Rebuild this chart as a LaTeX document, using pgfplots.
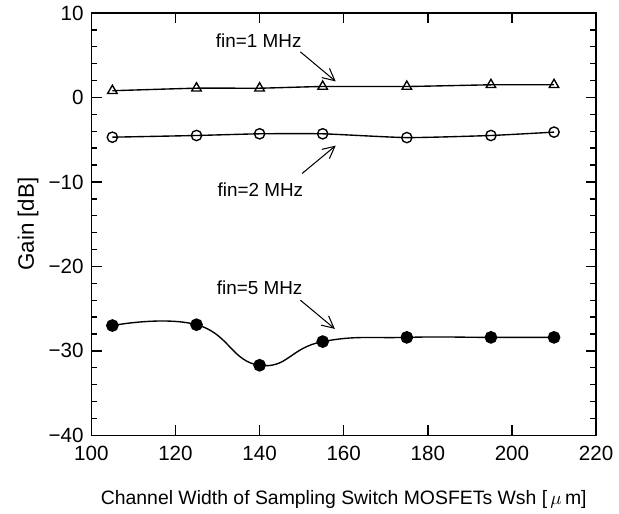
\documentclass[border=0pt]{standalone}
\usepackage{fontspec}
\setmainfont{Liberation Sans}
\usepackage{pgfplots}
\pgfplotsset{compat=1.18}
\usetikzlibrary{arrows.meta}

\begin{document}
\begin{tikzpicture}[font=\fontsize{11}{13}\selectfont]
  \begin{axis}[
    scale only axis, width=294pt, height=246pt,
    xmin=100, xmax=220, ymin=-40, ymax=10,
    xtick={100,120,...,220}, ytick={-40,-30,...,10},
    yticklabels={−40,−30,−20,−10,0,10},
    minor y tick num=4,
    tick align=inside, major tick length=6pt, minor tick length=3.5pt,
    axis line style={line width=0.9pt},
    every tick/.style={black, line width=0.8pt},
    /pgf/number format/assume math mode=true,
    tick label style={font=\fontsize{12}{14}\selectfont},
    xticklabel style={yshift=-3pt},
    yticklabel style={xshift=-1pt},
    xlabel={Channel Width of Sampling Switch MOSFETs Wsh [\,$\mu$\,m]},
    ylabel={Gain [dB]},
    xlabel style={font=\fontsize{11.3}{13}\selectfont, yshift=-10pt},
    ylabel style={font=\fontsize{13}{15}\selectfont, yshift=-1pt},
    clip=false,
  ]
    % fin = 1 MHz
    \addplot[black, line width=0.8pt, smooth, tension=0.3,
             mark=triangle, mark size=3.2pt, mark options={solid, fill=white}]
      coordinates {(105,0.8) (125,1.1) (140,1.1) (155,1.3) (175,1.3) (195,1.5) (210,1.5)};
    % fin = 2 MHz
    \addplot[black, line width=0.8pt, smooth, tension=0.3,
             mark=o, mark size=3pt, mark options={solid, fill=white}]
      coordinates {(105,-4.7) (125,-4.5) (140,-4.3) (155,-4.3) (175,-4.75) (195,-4.5) (210,-4.1)};
    % fin = 5 MHz
    \addplot[black, line width=0.8pt, smooth, tension=0.8,
             mark=*, mark size=3.3pt]
      coordinates {(105,-27.0) (125,-26.9) (140,-31.7) (155,-28.9) (175,-28.4) (195,-28.4) (210,-28.4)};

    \node at (axis cs:139.8,6.7) {fin=1 MHz};
    \draw[-{Straight Barb[length=7pt, width=7pt]}, line width=0.6pt]
      (axis cs:149.7,5.4) -- (axis cs:158.1,1.9);
    \node at (axis cs:140.2,-10.9) {fin=2 MHz};
    \draw[-{Straight Barb[length=7pt, width=7pt]}, line width=0.6pt]
      (axis cs:150.1,-9.0) -- (axis cs:158.1,-5.7);
    \node at (axis cs:140,-22.5) {fin=5 MHz};
    \draw[-{Straight Barb[length=7pt, width=7pt]}, line width=0.6pt]
      (axis cs:149.7,-24.0) -- (axis cs:157.9,-27.4);
  \end{axis}
  % blank margin on the left, as in the reference
  \path ([xshift=-7pt]current bounding box.west);
\end{tikzpicture}
\end{document}
